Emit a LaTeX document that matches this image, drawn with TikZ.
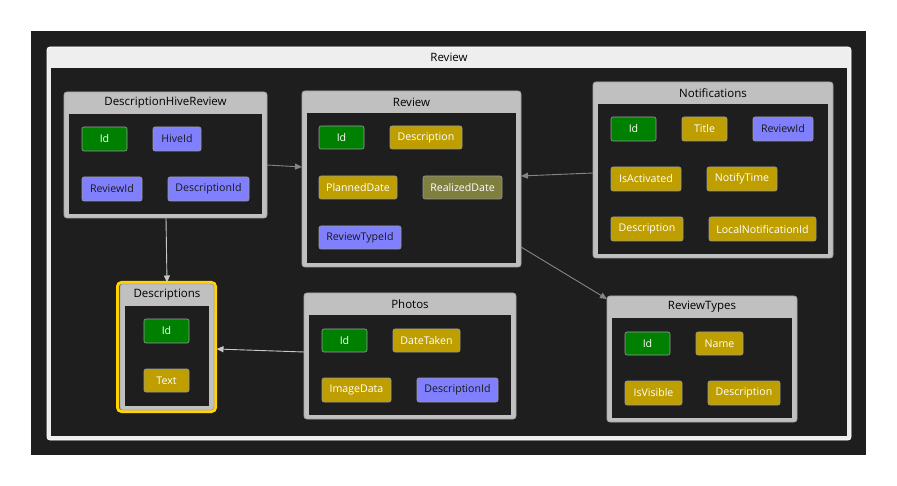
\documentclass[tikz,border=0pt]{standalone}
\usepackage{fontspec}
\setmainfont{Open Sans}
\usetikzlibrary{arrows.meta}

\definecolor{canvasbg}{HTML}{1E1E1E}
\definecolor{grouphead}{HTML}{EEEEEE}
\definecolor{entitygray}{HTML}{C0C0C0}
\definecolor{entityedge}{HTML}{A6A6A6}
\definecolor{keygreen}{HTML}{008000}
\definecolor{propgold}{HTML}{BF9F00}
\definecolor{fkblue}{HTML}{8080FF}
\definecolor{propolive}{HTML}{7F7F40}
\definecolor{fieldedge}{HTML}{9A9A9A}
\definecolor{linkdark}{HTML}{858585}
\definecolor{linklight}{HTML}{C8C8C8}
\definecolor{selgold}{HTML}{FFD400}

\tikzset{
  entity/.style={rectangle, rounded corners=3pt, fill=entitygray, draw=entityedge,
    line width=0.8pt, outer sep=0pt, inner sep=0pt},
  hdr/.style={font=\fontsize{11.5}{13}\selectfont, text=black, inner sep=0pt},
  fld/.style={rectangle, rounded corners=2pt, draw=fieldedge, line width=0.6pt,
    font=\fontsize{10.6}{12}\selectfont, inner sep=0pt, outer sep=0pt},
  kf/.style={fld, fill=keygreen, text=white},
  pf/.style={fld, fill=propgold, text=white},
  ff/.style={fld, fill=fkblue, text=black!90},
  of/.style={fld, fill=propolive, text=white},
  link/.style={line width=0.9pt, -{Triangle[length=7pt,width=6pt]}},
}

% entity box: name, cx, cy, width, height, title
\newcommand\entitybox[6]{%
  \node[entity, minimum width=#4pt, minimum height=#5pt] (#1) at (#2,#3) {};
  \fill[canvasbg] ([xshift=5pt,yshift=-22pt]#1.north west) rectangle ([xshift=-5pt,yshift=4pt]#1.south east);
  \node[hdr] (#1-title) at ([yshift=-11pt]#1.north) {#6};
}
% field chip: name, x1, y1, x2, y2, style, text
\newcommand\fieldchip[7]{%
  \node[#6, minimum width={(#4-#2)*1pt}, minimum height={(#5-#3)*1pt}]
    (#1) at ({(#2+#4)/2},{(#3+#5)/2}) {#7};
}

\begin{document}
\begin{tikzpicture}[x=1pt,y=-1pt]
\useasboundingbox (0,0) rectangle (897,486);
\fill[white] (0,0) rectangle (897,486);
\fill[canvasbg] (31,31) rectangle (866,455);

% outer group
\node[rectangle, rounded corners=3pt, fill=grouphead, draw=white, line width=0.8pt,
  minimum width=804pt, minimum height=393pt, inner sep=0pt] (grp) at (449,243.5) {};
\fill[canvasbg] (51,68) rectangle (847,436);
\node[hdr] (grp-title) at (449,57.5) {Review};

% entities
\entitybox{dhr}{165.5}{155}{203}{126}{DescriptionHiveReview}
\entitybox{rev}{411.5}{179}{219}{176}{Review}
\entitybox{notif}{713}{170}{240}{176}{Notifications}
\draw[selgold, line width=3pt, rounded corners=4pt] (117.5,282.5) rectangle (215.5,411.5);
\entitybox{desc}{167}{347}{94}{126}{Descriptions}
\entitybox{photos}{410}{356}{212}{126}{Photos}
\entitybox{rtypes}{702}{359}{190}{126}{ReviewTypes}

% DescriptionHiveReview fields
\fieldchip{dhr-id}{82}{127}{127}{151}{kf}{Id}
\fieldchip{dhr-hive}{153}{127}{201}{151}{ff}{HiveId}
\fieldchip{dhr-rev}{82}{177}{142}{201}{ff}{ReviewId}
\fieldchip{dhr-desc}{168}{177}{249}{201}{ff}{DescriptionId}

% Review fields
\fieldchip{rev-id}{319}{126}{364}{149}{kf}{Id}
\fieldchip{rev-desc}{390}{126}{462}{149}{pf}{Description}
\fieldchip{rev-plan}{319}{176}{397}{199}{pf}{PlannedDate}
\fieldchip{rev-real}{423}{176}{502}{199}{of}{RealizedDate}
\fieldchip{rev-type}{319}{226}{401}{249}{ff}{ReviewTypeId}

% Notifications fields
\fieldchip{nt-id}{611}{117}{656}{141}{kf}{Id}
\fieldchip{nt-title}{682}{117}{727}{141}{pf}{Title}
\fieldchip{nt-rev}{753}{117}{813}{141}{ff}{ReviewId}
\fieldchip{nt-act}{611}{167}{681}{191}{pf}{IsActivated}
\fieldchip{nt-time}{707}{167}{777}{191}{pf}{NotifyTime}
\fieldchip{nt-desc}{611}{217}{683}{241}{pf}{Description}
\fieldchip{nt-local}{709}{217}{816}{241}{pf}{LocalNotificationId}

% Descriptions fields
\fieldchip{ds-id}{144}{319}{189}{343}{kf}{Id}
\fieldchip{ds-text}{144}{369}{189}{392}{pf}{Text}

% Photos fields
\fieldchip{ph-id}{322}{329}{367}{352}{kf}{Id}
\fieldchip{ph-date}{393}{329}{460}{352}{pf}{DateTaken}
\fieldchip{ph-img}{322}{378}{391}{402}{pf}{ImageData}
\fieldchip{ph-desc}{417}{378}{498}{402}{ff}{DescriptionId}

% ReviewTypes fields
\fieldchip{rt-id}{625}{332}{670}{355}{kf}{Id}
\fieldchip{rt-name}{696}{332}{743}{355}{pf}{Name}
\fieldchip{rt-vis}{625}{381}{682}{405}{pf}{IsVisible}
\fieldchip{rt-desc}{708}{381}{780}{405}{pf}{Description}

% relations
\draw[link, linkdark] ([yshift=-10pt]dhr.east) -- ([yshift=12pt]rev.west);
\draw[link, linklight] ([xshift=0.5pt]dhr.south) -- ([yshift=1.5pt]desc.north);
\draw[link, linkdark] ([yshift=-3pt]notif.west) -- ([yshift=3pt]rev.east);
\draw[link, linkdark] ([yshift=-68pt]rev.east) -- ([yshift=-3pt]rtypes.north west);
\draw[link, linklight] ([yshift=4pt]photos.west) -- ([xshift=2.5pt,yshift=-2pt]desc.east);
\end{tikzpicture}
\end{document}
